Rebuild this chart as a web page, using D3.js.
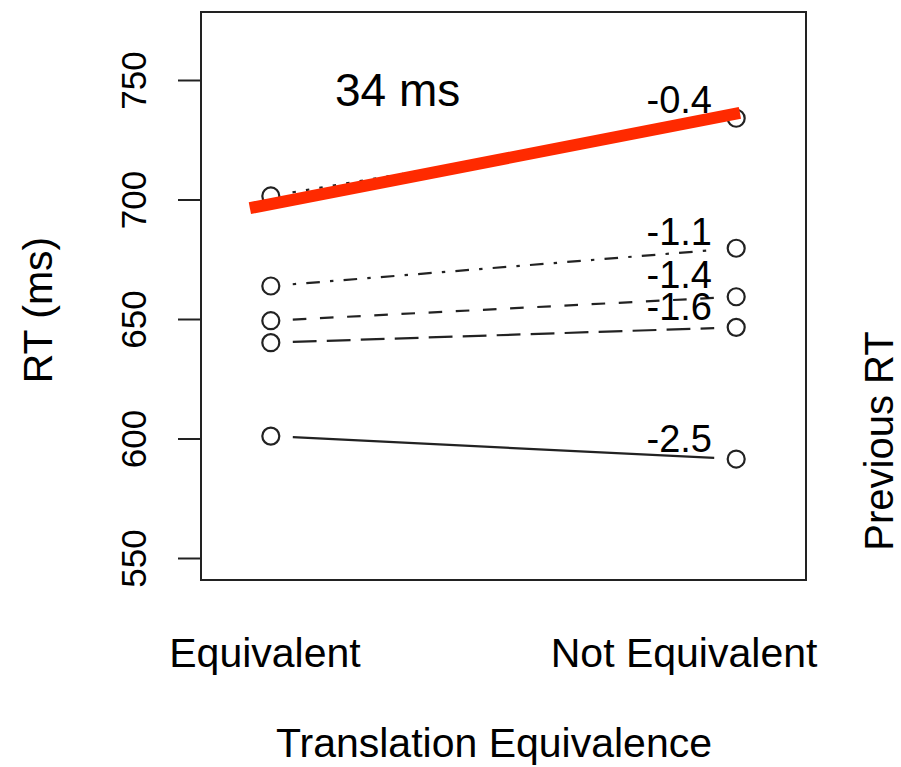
<!DOCTYPE html>
<html>
<head>
<meta charset="utf-8">
<script src="https://cdn.jsdelivr.net/npm/d3@7"></script>
<style>
  body { margin: 0; background: #fff; }
  text { font-family: "Liberation Sans", Arial, Helvetica, sans-serif; fill: #000; }
</style>
</head>
<body>
<svg id="chart"></svg>
<script>
// categories on the x axis
var conditions = ["Equivalent", "Not Equivalent"];
var conditionX = [1, 2];
var conditionLabelX = [0.9875, 1.888];

// mean RT per previous-RT level
var equivalentRT = [701.5, 663.8, 649.3, 640.1, 601.0];
var notEquivalentRT = [734.0, 679.6, 659.3, 646.5, 591.4];
var slopeLabels = ["-0.4", "-1.1", "-1.4", "-1.6", "-2.5"];
var slopeLabelRT = [736.2, 681.0, 663.0, 649.6, 594.4];
var lineTypes = ["dotted", "dashdot", "dashed", "longdash", "solid"];

// thick fitted line
var fitX = [0.955, 2.008];
var fitRT = [696.4, 736.2];
var fitLabel = "34 ms";
var fitLabelPos = [1.138, 739.1];

var yTicks = [550, 600, 650, 700, 750];

var W = 901, H = 767;
var box = { left: 201, right: 806, top: 12, bottom: 580 };

var svg = d3.select("#chart")
  .attr("width", W)
  .attr("height", H);

var x = d3.scaleLinear().domain([0.85, 2.15]).range([box.left, box.right]);
var y = d3.scaleLinear().domain([550, 750]).range([558, 80]);

var unit = 3.4;
var dashes = {
  solid: null,
  dotted: [unit, 3 * unit],
  dashdot: [unit, 3 * unit, 4 * unit, 3 * unit],
  dashed: [4 * unit, 4 * unit],
  longdash: [7 * unit, 3 * unit]
};

// plot frame
svg.append("rect")
  .attr("x", box.left)
  .attr("y", box.top)
  .attr("width", box.right - box.left)
  .attr("height", box.bottom - box.top)
  .attr("fill", "none")
  .attr("stroke", "#222")
  .attr("stroke-width", 2);

// y axis
var yAxis = d3.axisLeft(y).tickValues(yTicks).tickSize(23).tickPadding(0).tickFormat(d3.format("d"));
var gy = svg.append("g")
  .attr("transform", "translate(" + box.left + ",0)")
  .call(yAxis);
gy.select(".domain").remove();
gy.selectAll(".tick line").attr("stroke", "#222").attr("stroke-width", 2);
gy.selectAll(".tick text")
  .attr("x", null).attr("dy", null)
  .attr("text-anchor", "middle")
  .attr("transform", "translate(-55,0) rotate(-90)")
  .style("font-size", "35px")
  .style("font-family", "'Liberation Sans', Arial, sans-serif")
  .attr("fill", "#000");

// x category labels (no tick marks)
svg.selectAll(".xlab")
  .data(conditions)
  .enter().append("text")
  .attr("class", "xlab")
  .attr("x", (d, i) => x(conditionLabelX[i]))
  .attr("y", 667)
  .attr("text-anchor", "middle")
  .style("font-size", "41px")
  .text(d => d);

// axis titles
svg.append("text")
  .attr("transform", "translate(52,310) rotate(-90)")
  .attr("text-anchor", "middle")
  .style("font-size", "41px")
  .text("RT (ms)");

svg.append("text")
  .attr("x", 494)
  .attr("y", 757)
  .attr("text-anchor", "middle")
  .style("font-size", "41px")
  .text("Translation Equivalence");

svg.append("text")
  .attr("transform", "translate(893,441) rotate(-90)")
  .attr("text-anchor", "middle")
  .style("font-size", "40px")
  .text("Previous RT");

// series lines with gaps around points (type = "b")
var series = equivalentRT.map((v, i) => ({
  a: v, b: notEquivalentRT[i], lab: slopeLabels[i], labY: slopeLabelRT[i], lty: lineTypes[i]
}));

var gap = 22;
series.forEach(function(s) {
  var x0 = x(conditionX[0]), y0 = y(s.a), x1 = x(conditionX[1]), y1 = y(s.b);
  var len = Math.hypot(x1 - x0, y1 - y0);
  var t0 = gap / len, t1 = 1 - gap / len;
  svg.append("line")
    .attr("x1", x0 + (x1 - x0) * t0)
    .attr("y1", y0 + (y1 - y0) * t0)
    .attr("x2", x0 + (x1 - x0) * t1)
    .attr("y2", y0 + (y1 - y0) * t1)
    .attr("stroke", "#222")
    .attr("stroke-width", 2.2)
    .attr("stroke-dasharray", dashes[s.lty] ? dashes[s.lty].join(",") : null);
});

// points
var pts = [];
series.forEach(function(s) {
  pts.push({ cx: conditionX[0], v: s.a });
  pts.push({ cx: conditionX[1], v: s.b });
});
svg.selectAll(".pt")
  .data(pts)
  .enter().append("circle")
  .attr("class", "pt")
  .attr("cx", d => x(d.cx))
  .attr("cy", d => y(d.v))
  .attr("r", 8.5)
  .attr("fill", "none")
  .attr("stroke", "#222")
  .attr("stroke-width", 2.2);

// slope labels
svg.selectAll(".slab")
  .data(series)
  .enter().append("text")
  .attr("class", "slab")
  .attr("x", x(1.948))
  .attr("y", d => y(d.labY))
  .attr("text-anchor", "end")
  .style("font-size", "38px")
  .text(d => d.lab);

// thick red fitted line
svg.append("line")
  .attr("x1", x(fitX[0]))
  .attr("y1", y(fitRT[0]))
  .attr("x2", x(fitX[1]))
  .attr("y2", y(fitRT[1]))
  .attr("stroke", "#ff2a00")
  .attr("stroke-width", 12);

svg.append("text")
  .attr("x", x(fitLabelPos[0]))
  .attr("y", y(fitLabelPos[1]))
  .style("font-size", "46px")
  .text(fitLabel);
</script>
</body>
</html>
